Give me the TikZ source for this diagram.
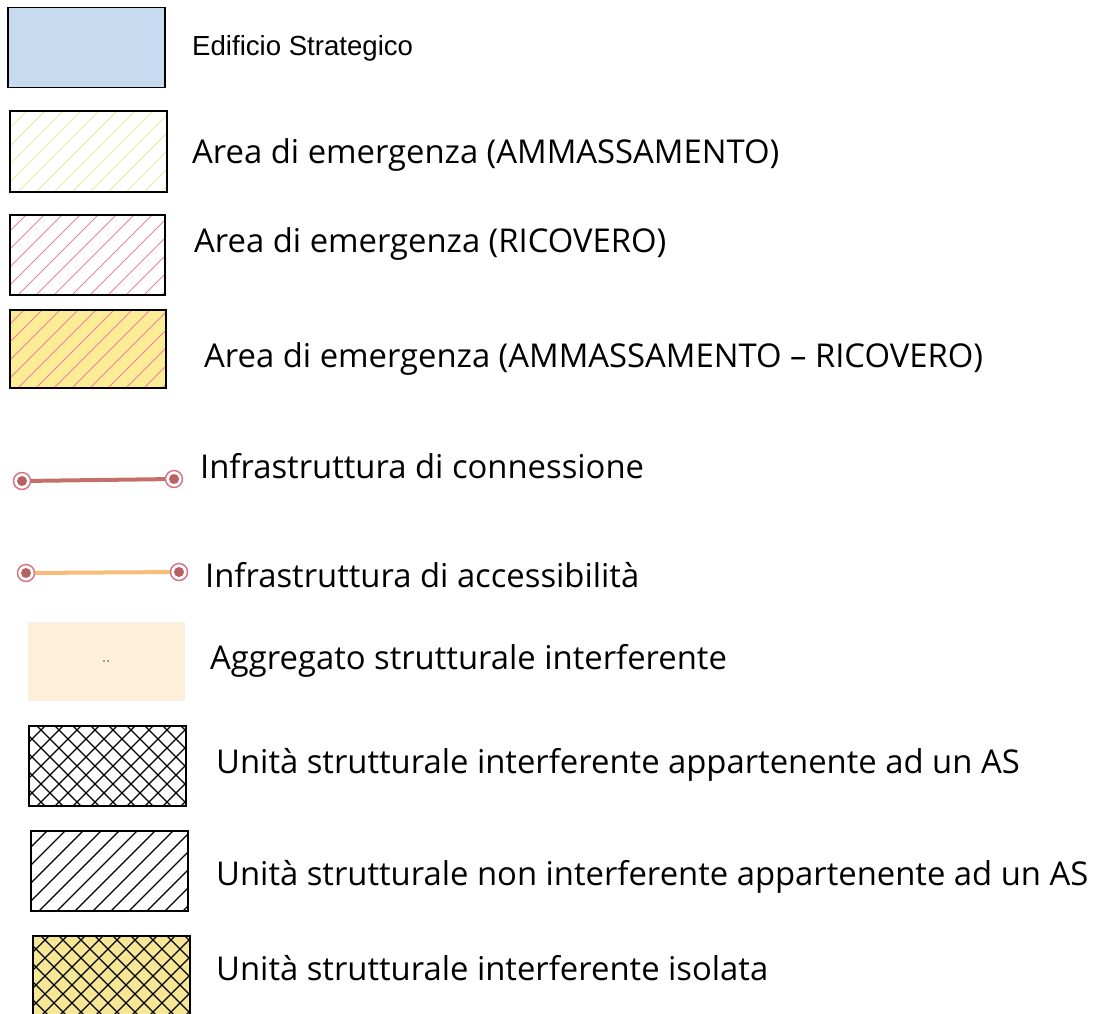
\documentclass[tikz,border=0pt]{standalone}
\usepackage{fontspec}
\setmainfont{Open Sans}
\newfontfamily\arialfont{Liberation Sans}
\definecolor{stratblue}{RGB}{198,218,240}
\definecolor{ammyellow}{RGB}{238,232,160}
\definecolor{ricpink}{RGB}{234,130,160}
\definecolor{mixyellow}{RGB}{252,236,150}
\definecolor{aggcream}{RGB}{253,239,217}
\definecolor{isoyellow}{RGB}{246,231,150}
\definecolor{connred}{RGB}{196,112,104}
\definecolor{accorange}{RGB}{246,188,120}
\definecolor{ringred}{RGB}{214,110,130}
\definecolor{dotred}{RGB}{184,98,96}

\begin{document}
\begin{tikzpicture}[x=1pt,y=-1pt,
    legbox/.style={draw,rectangle,line width=1.8pt,inner sep=0pt,
      minimum width=157pt,minimum height=80pt},
    hatch/.style={path picture={
      \foreach \i in {-100,-82,...,180}
        \draw[#1] ([xshift=\i pt]path picture bounding box.south west) -- ++(120pt,120pt);}},
    crosshatch/.style={path picture={
      \foreach \i in {-100,-82,...,180}
        \draw[#1] ([xshift=\i pt]path picture bounding box.south west) -- ++(120pt,120pt);
      \foreach \i in {-20,-2,...,280}
        \draw[#1] ([xshift=\i pt]path picture bounding box.south west) -- ++(-120pt,120pt);}},
    endpt/.style={draw=ringred,fill=white,circle,line width=1.4pt,inner sep=0pt,
      minimum size=17pt,path picture={
        \fill[dotred] (path picture bounding box.center) circle (5pt);}},
    leglabel/.style={anchor=base west,inner sep=0pt,font=\fontsize{32.8}{36}\selectfont}
    ]
    \useasboundingbox (0,0) rectangle (1098,1013);

    % the boxes
    \node (strat) [legbox,fill=stratblue] at (86.5,47.5) {};
    \node (amm) [legbox,hatch={ammyellow,line width=0.8pt},minimum height=81pt] at (88.5,151.5) {};
    \node (ric) [legbox,hatch={ricpink,line width=0.9pt},minimum width=155pt] at (87.5,255) {};
    \node (mix) [legbox,fill=mixyellow,hatch={ricpink,line width=0.9pt},minimum width=156pt,minimum height=78pt] at (88,349) {};
    \node (agg) [legbox,draw=aggcream!80!gray!40,line width=0.6pt,fill=aggcream,minimum width=156pt,minimum height=78pt,
      path picture={\fill[black!70] ([xshift=-2pt]path picture bounding box.center) circle (0.9pt)
                    ([xshift=2pt]path picture bounding box.center) circle (0.9pt);}] at (106,661) {};
    \node (usas) [legbox,crosshatch={line width=1.3pt}] at (107.5,766) {};
    \node (usnon) [legbox,hatch={line width=1.3pt}] at (109.5,871) {};
    \node (usiso) [legbox,fill=isoyellow,crosshatch={line width=1.3pt}] at (111.5,976) {};

    % the end points
    \node (c1a) [endpt] at (22,481) {};
    \node (c1b) [endpt] at (174,479) {};
    \node (c2a) [endpt] at (26,573) {};
    \node (c2b) [endpt] at (179,572) {};

    % the edges
    \draw[connred,line width=4pt] (c1a) -- (c1b);
    \draw[accorange,line width=4pt] (c2a) -- (c2b);

    % the labels
    \node (lstrat) [leglabel,font=\arialfont\fontsize{27.6}{32}\selectfont] at (192,55) {Edificio Strategico};
    \node (lamm) [leglabel] at (192,163) {Area di emergenza (AMMASSAMENTO)};
    \node (lric) [leglabel] at (194,252) {Area di emergenza (RICOVERO)};
    \node (lmix) [leglabel] at (204,367) {Area di emergenza (AMMASSAMENTO – RICOVERO)};
    \node (lconn) [leglabel] at (200,478) {Infrastruttura di connessione};
    \node (lacc) [leglabel] at (205,587) {Infrastruttura di accessibilità};
    \node (lagg) [leglabel] at (210,669) {Aggregato strutturale interferente};
    \node (lusas) [leglabel] at (216,773) {Unità strutturale interferente appartenente ad un AS};
    \node (lusnon) [leglabel] at (216,885) {Unità strutturale non interferente appartenente ad un AS};
    \node (lusiso) [leglabel] at (216,980) {Unità strutturale interferente isolata};
\end{tikzpicture}
\end{document}
